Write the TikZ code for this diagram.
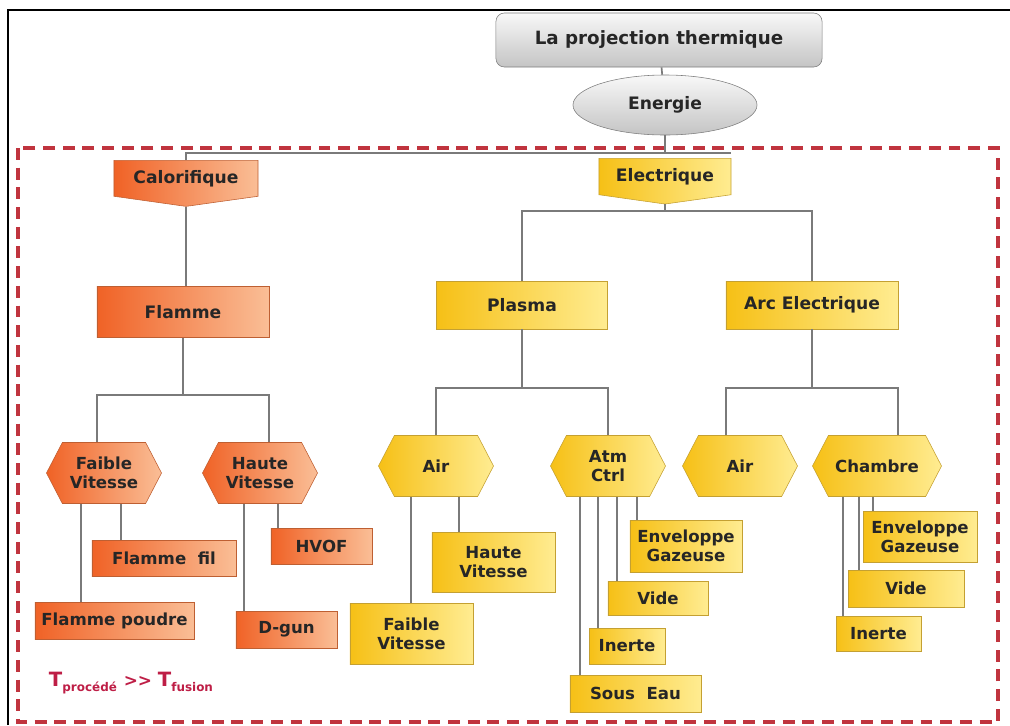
\documentclass[tikz,border=0pt]{standalone}
\usepackage{fontspec}
\setmainfont{DejaVu Sans}
\usetikzlibrary{shapes.geometric,shapes.symbols}
\definecolor{orA}{RGB}{240,98,38}
\definecolor{orB}{RGB}{250,190,150}
\definecolor{orline}{RGB}{190,95,50}
\definecolor{yeA}{RGB}{246,192,22}
\definecolor{yeB}{RGB}{255,236,145}
\definecolor{yeline}{RGB}{196,160,50}
\definecolor{grA}{RGB}{248,248,248}
\definecolor{grB}{RGB}{196,196,196}
\definecolor{grline}{RGB}{125,125,125}
\definecolor{linkgray}{RGB}{122,122,122}
\definecolor{dashred}{RGB}{192,52,62}
\definecolor{tred}{RGB}{190,30,70}
\begin{document}
\begin{tikzpicture}[x=0.025cm,y=-0.025cm,
  link/.style={draw=linkgray, line width=1.2pt},
  topfont/.style={font=\fontsize{12.2}{14}\selectfont\bfseries, text=black!85},
  lowfont/.style={font=\fontsize{11.8}{13.5}\selectfont\bfseries, text=black!85},
  orfill/.style={draw=orline, left color=orA, right color=orB},
  yefill/.style={draw=yeline, left color=yeA, right color=yeB},
  leaf/.style={rectangle, inner sep=1pt, align=center, lowfont},
  hexa/.style={signal, signal to=east and west, signal pointer angle=125,
    minimum width=2.875cm, minimum height=1.525cm, inner sep=1pt, align=center, lowfont},
  tag/.style={signal, signal to=south, signal pointer angle=164,
    minimum height=1.1cm, anchor=north, topfont},
  ]
\useasboundingbox (0,0) rectangle (1010,725);
% cadres
\draw [line width=1.8pt] (8,725) -- (8,10) -- (1010,10);
\draw [dashred, line width=2.4pt, dash pattern=on 8.5pt off 5.5pt] (18,148) rectangle (998,722);
% haut
\node[draw=grline, rounded corners=6pt, top color=grA, bottom color=grB,
  minimum width=8.15cm, minimum height=1.35cm, topfont, font=\fontsize{13}{15}\selectfont\bfseries] (titre) at (659,40) {La projection thermique};
\node[ellipse, draw=grline, top color=grA, bottom color=grB, minimum width=4.6cm,
  minimum height=1.5cm, inner sep=0pt, topfont] (energie) at (665,105) {Energie};
\node[tag, orfill, minimum width=3.6cm] (calo) at (186,160) {Calorifique};
\node[tag, yefill, minimum width=3.3cm] (elec) at (665,158) {Electrique};
\node[rectangle, orfill, topfont, minimum width=4.3cm, minimum height=1.275cm] (flamme) at (183,312) {Flamme};
\node[rectangle, yefill, topfont, minimum width=4.275cm, minimum height=1.2cm] (plasma) at (522,305) {Plasma};
\node[rectangle, yefill, topfont, minimum width=4.3cm, minimum height=1.2cm] (arc) at (812,305) {Arc Electrique};
% hexagones
\node[hexa, orfill] (fvit) at (104,473) {Faible\\Vitesse};
\node[hexa, orfill] (hvit) at (260,473) {Haute\\Vitesse};
\node[hexa, yefill] (pair) at (436,466) {Air};
\node[hexa, yefill] (atm) at (608,466) {Atm\\Ctrl};
\node[hexa, yefill] (aair) at (740,466) {Air};
\node[hexa, yefill, minimum width=3.225cm] (chamb) at (877,466) {Chambre};
% feuilles
\node[leaf, orfill, minimum width=3.6cm, minimum height=0.9cm] (ffil) at (164,558) {Flamme\ \ fil};
\node[leaf, orfill, minimum width=3.975cm, minimum height=0.925cm] (fpoud) at (114.5,620.5) {Flamme poudre};
\node[leaf, orfill, minimum width=2.525cm, minimum height=0.9cm] (hvof) at (321.5,546) {HVOF};
\node[leaf, orfill, minimum width=2.525cm, minimum height=0.925cm] (dgun) at (286.5,629.5) {D-gun};
\node[leaf, yefill, minimum width=3.075cm, minimum height=1.5cm] (phau) at (493.5,562) {Haute\\Vitesse};
\node[leaf, yefill, minimum width=3.075cm, minimum height=1.525cm] (pfai) at (411.5,633.5) {Faible\\Vitesse};
\node[leaf, yefill, minimum width=2.8cm, minimum height=1.3cm] (env1) at (686,546) {Enveloppe\\Gazeuse};
\node[leaf, yefill, minimum width=2.5cm, minimum height=0.85cm] (vide1) at (658,598) {Vide};
\node[leaf, yefill, minimum width=1.9cm, minimum height=0.9cm] (iner1) at (627,646) {Inerte};
\node[leaf, yefill, minimum width=3.275cm, minimum height=0.925cm] (seau) at (635.5,693.5) {Sous\ \ Eau};
\node[leaf, yefill, minimum width=2.85cm, minimum height=1.275cm] (env2) at (920,536.5) {Enveloppe\\Gazeuse};
\node[leaf, yefill, minimum width=2.9cm, minimum height=0.925cm] (vide2) at (906,588.5) {Vide};
\node[leaf, yefill, minimum width=2.125cm, minimum height=0.875cm] (iner2) at (878.5,633.5) {Inerte};
% liaisons
\draw[link] (titre) -- (energie);
\coordinate (b0) at (665,153);
\draw[link] (energie) -- (b0);
\draw[link] (calo.north) |- (b0) -- (b0 -| elec.east);
\draw[link] (calo.south) -- (calo.south |- flamme.north);
\draw[link] (elec.south) -- ++(0,7) coordinate (b1);
\draw[link] (plasma.north) |- (b1) -| (arc.north);
\foreach \p/\l/\r in {flamme/fvit/hvit, plasma/pair/atm, arc/aair/chamb}{
  \draw[link] (\l.north -| \p.west) -- ++(0,-47) coordinate (bus) -| (\r.north -| \p.east);
  \draw[link] (\p.south) -- (\p.south |- bus);
}
\foreach \x/\a/\b in {81/fvit/fpoud, 121/fvit/ffil, 244/hvit/dgun, 278/hvit/hvof,
  411/pair/pfai, 459/pair/phau, 580/atm/seau, 598/atm/iner1, 617/atm/vide1,
  637/atm/env1, 843/chamb/iner2, 859/chamb/vide2, 873/chamb/env2}{
  \draw[link] (\a.south -| \x,0) -- (\b.north -| \x,0);
}
% condition
\node[anchor=west, text=tred, font=\bfseries] (tcond) at (44,683)
  {\fontsize{14}{16}\selectfont T\raisebox{-0.5ex}{\fontsize{8.5}{9}\selectfont proc\'ed\'e}
   \fontsize{12}{14}\selectfont>{}>
   \fontsize{14}{16}\selectfont T\raisebox{-0.5ex}{\fontsize{8.5}{9}\selectfont fusion}};
\end{tikzpicture}
\end{document}
